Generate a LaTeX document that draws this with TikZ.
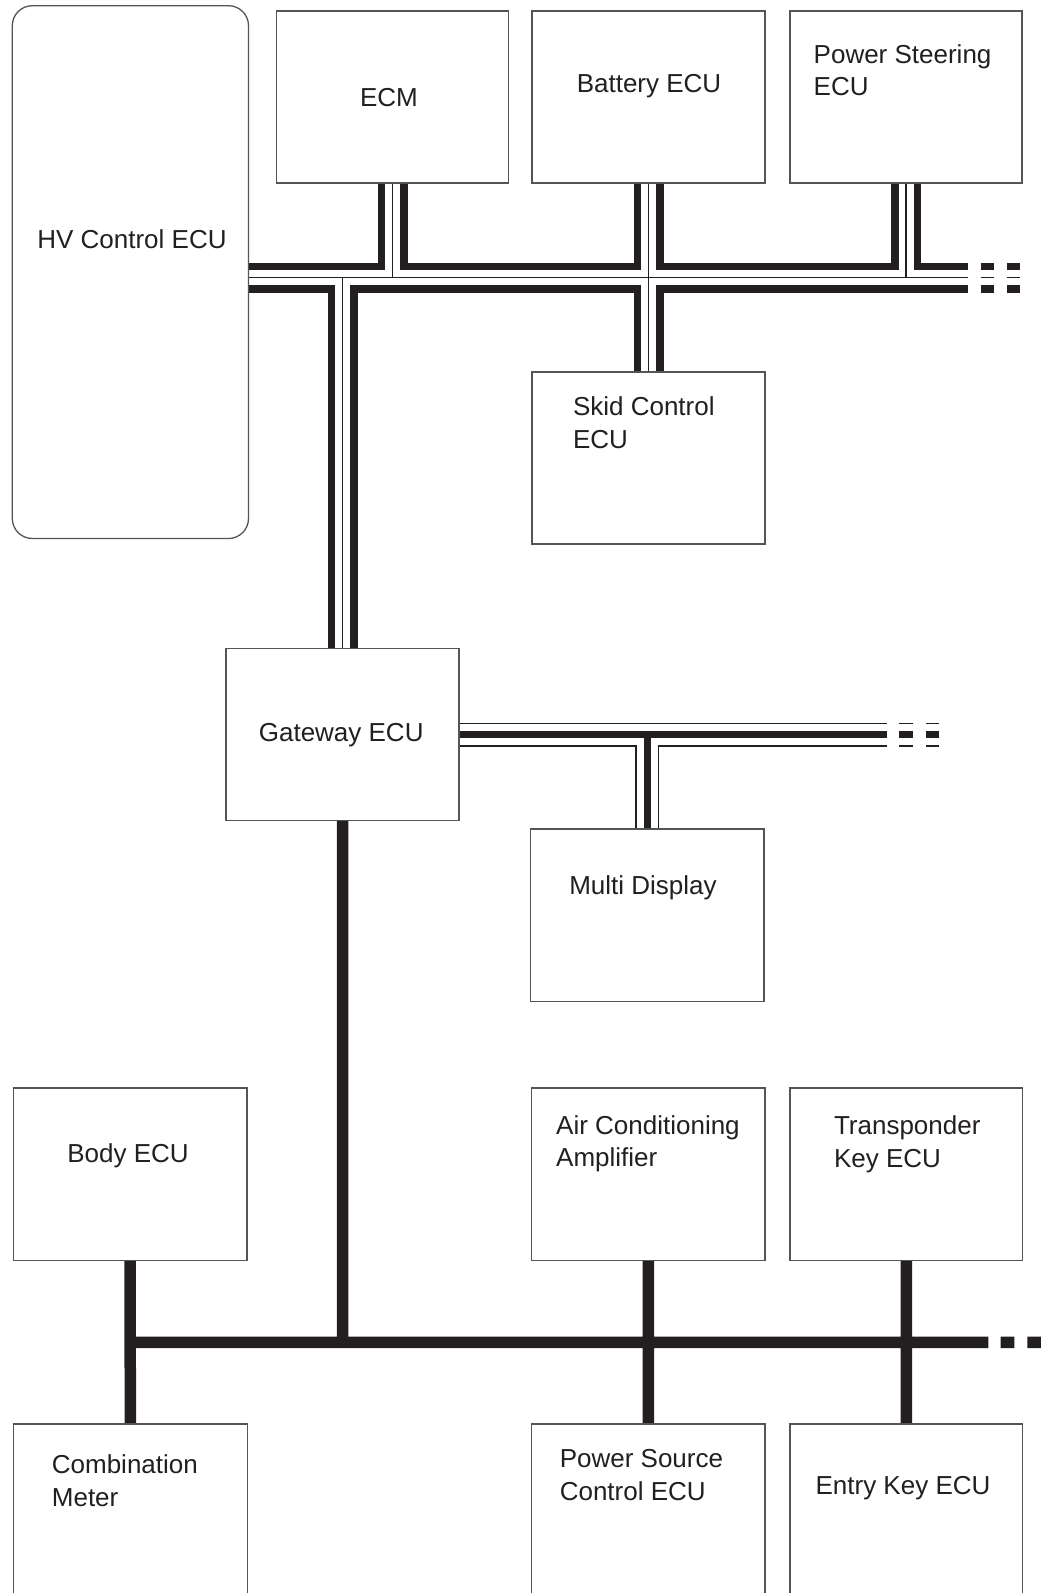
\documentclass[tikz,border=0pt]{standalone}
\usepackage{fontspec}
\setmainfont{Liberation Sans}
\usetikzlibrary{calc}
\definecolor{ink}{RGB}{35,31,32}
\definecolor{edge}{RGB}{85,85,85}
\pgfdeclarelayer{bg}
\pgfsetlayers{bg,main}
\newcommand\topbusnet[1]{%
  \draw[#1] (hv.east |- bt) -- (tEnd)
    (ecm.south) -- (ecm.south |- bt)
    (bat.south) -- (skid.north)
    (ps.south) -- (ps.south |- bt)
    (gw.north |- bt) -- (gw.north)
    (tD1a) -- (tD1b) (tD2a) -- (tD2b);}
\newcommand\midbusnet[1]{%
  \draw[#1] (gw.east) -- (gw.east -| mEnd)
    (md.north) -- (md.north |- gw.east)
    (mD1a) -- (mD1b) (mD2a) -- (mD2b);}
\begin{document}
\begin{tikzpicture}[x=1pt,y=-1pt,
  box/.style={draw=edge, line width=1.3pt, fill=white, inner sep=0pt, outer sep=0pt},
  lbl/.style={font=\fontsize{26}{32.5}\selectfont, text=ink, inner sep=0pt, align=left},
  busA/.style={ink, line width=30pt},
  busB/.style={white, line width=15pt},
  busC/.style={ink, line width=1.5pt},
  midA/.style={ink, line width=24pt},
  midB/.style={white, line width=21.4pt},
  midC/.style={ink, line width=7.5pt},
  lowbus/.style={ink, line width=11.5pt}]
\useasboundingbox (0,0) rectangle (1041,1593);
\clip (0,0) rectangle (1041,1593);

% boxes
\node[box, rounded corners=20pt, minimum width=236.2pt, minimum height=532.8pt] (hv) at (130.4,272.1) {};
\node[box, minimum width=232pt, minimum height=172pt] (ecm) at (392.5,97) {};
\node[box, minimum width=233pt, minimum height=172pt] (bat) at (648.5,97) {};
\node[box, minimum width=232pt, minimum height=172pt] (ps) at (906,97) {};
\node[box, minimum width=233pt, minimum height=172pt] (skid) at (648.5,458) {};
\node[box, minimum width=233pt, minimum height=172pt] (gw) at (342.5,734.5) {};
\node[box, minimum width=233.5pt, minimum height=172.5pt] (md) at (647.25,915.25) {};
\node[box, minimum width=233.7pt, minimum height=172.5pt] (body) at (130.15,1174.25) {};
\node[box, minimum width=233.5pt, minimum height=172.5pt] (ac) at (648.25,1174.25) {};
\node[box, minimum width=232.5pt, minimum height=172.5pt] (tk) at (906.25,1174.25) {};
\node[box, minimum width=234pt, minimum height=200pt] (comb) at (130.3,1524) {};
\node[box, minimum width=233.5pt, minimum height=200pt] (psrc) at (648.25,1524) {};
\node[box, minimum width=232.5pt, minimum height=200pt] (entry) at (906.25,1524) {};

% labels (multi-line labels anchored at the baseline of their last line)
\node[lbl, anchor=base] (thv) at (132,248) {HV Control ECU};
\node[lbl, anchor=base] (tecm) at (389,106) {ECM};
\node[lbl, anchor=base] (tbat) at (649,92.5) {Battery ECU};
\node[lbl, anchor=base west] (tps) at (813.5,95.5) {Power Steering\\ECU};
\node[lbl, anchor=base west] (tskid) at (572.8,448) {Skid Control\\ECU};
\node[lbl, anchor=base] (tgw) at (341.2,741.5) {Gateway ECU};
\node[lbl, anchor=base] (tmd) at (643,894) {Multi Display};
\node[lbl, anchor=base] (tbody) at (128,1162) {Body ECU};
\node[lbl, anchor=base west] (tac) at (556,1166.8) {Air Conditioning\\Amplifier};
\node[lbl, anchor=base west] (ttk) at (833.8,1167) {Transponder\\Key ECU};
\node[lbl, anchor=base west] (tcomb) at (51.7,1506.3) {Combination\\Meter};
\node[lbl, anchor=base west] (tpsrc) at (559.6,1500) {Power Source\\Control ECU};
\node[lbl, anchor=base] (tentry) at (903,1494) {Entry Key ECU};

% bus coordinates
\coordinate (bt) at (0,277.7);
\coordinate (tEnd) at (967.7,277.7);
\coordinate (tD1a) at (980.7,277.7);
\coordinate (tD1b) at (994,277.7);
\coordinate (tD2a) at (1007,277.7);
\coordinate (tD2b) at (1020.3,277.7);
\coordinate (mEnd) at (886.7,735);
\coordinate (mD1a) at (899.3,734.5);
\coordinate (mD1b) at (912.7,734.5);
\coordinate (mD2a) at (925.7,734.5);
\coordinate (mD2b) at (939,734.5);
\coordinate (bb) at (0,1342.3);
\coordinate (bEnd) at (988.3,1342.3);
\coordinate (bD1a) at (1000.7,1342.3);
\coordinate (bD1b) at (1014.3,1342.3);
\coordinate (bD2a) at (1027.3,1342.3);
\coordinate (bD2b) at (1041,1342.3);

\begin{pgfonlayer}{bg}
  \fill[white] (0,0) rectangle (1041,1593);
  \topbusnet{busA}
  \topbusnet{busB}
  \topbusnet{busC}
  \midbusnet{midA}
  \midbusnet{midB}
  \midbusnet{midC}
  \draw[lowbus] (body.south) -- (comb.north)
    (body.south |- bb) -- (bEnd)
    (gw.south) -- (gw.south |- bb)
    (ac.south) -- (psrc.north)
    (tk.south) -- (entry.north)
    (bD1a) -- (bD1b) (bD2a) -- (bD2b);
\end{pgfonlayer}
\end{tikzpicture}
\end{document}
